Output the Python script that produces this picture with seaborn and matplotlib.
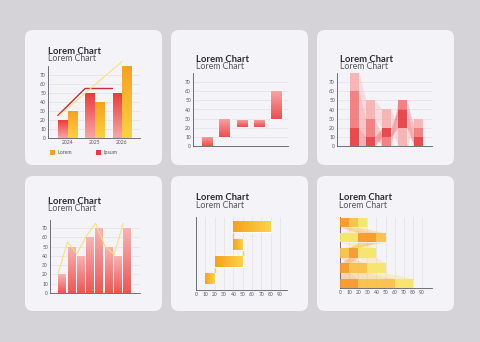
import numpy as np
import pandas as pd
import seaborn as sns
import matplotlib.pyplot as plt
import matplotlib.patches as mpatches
from matplotlib.colors import LinearSegmentedColormap
from matplotlib.transforms import IdentityTransform

sns.set_style('white')
plt.rcParams['font.family'] = ['Lato', 'DejaVu Sans']

# --- data ---
years = ['2024', '2025', '2026']
lorem_vals = [30, 40, 80]
ipsum_vals = [20, 50, 50]
red_line = [25, 55, 55]
yellow_line = [25, 55, 85]

wf_low = [0, 10, 21, 21, 30]
wf_high = [10, 30, 29, 29, 60]

dark_lo = [0, 0, 10, 20, 0]
dark_hi = [20, 10, 20, 40, 10]
mid_lo = [20, 10, 0, 40, 10]
mid_hi = [60, 30, 10, 50, 20]
light_lo = [60, 30, 20, 0, 20]
light_hi = [80, 50, 40, 20, 30]

bars4 = [20, 50, 40, 60, 70, 50, 40, 70]
line4 = [22, 55, 42, 61, 75, 51, 41, 75]

gantt_start = [10, 20, 40, 40]
gantt_end = [20, 50, 50, 80]

W, H = 480, 342
BG = '#d6d3d8'
CARD = '#f4f3f7'
AXC = '#5a5a66'
GRID = '#e2e1e8'

fig = plt.figure(figsize=(W / 100, H / 100), dpi=100, facecolor=BG)


def add_ax(l, t, r, b):
    ax = fig.add_axes([l / W, 1 - b / H, (r - l) / W, (b - t) / H])
    ax.set_facecolor('none')
    for s in ['top', 'right']:
        ax.spines[s].set_visible(False)
    for s in ['left', 'bottom']:
        ax.spines[s].set_color(AXC)
        ax.spines[s].set_linewidth(0.6)
    ax.tick_params(length=0, labelsize=3.6, colors='#555560', pad=1.5)
    return ax


def card(x, y, w, h):
    fig.add_artist(mpatches.FancyBboxPatch(
        (x, H - y - h), w, h, boxstyle='round,pad=0,rounding_size=8',
        transform=IdentityTransform(), facecolor=CARD, edgecolor='none', zorder=0))


def titles(x, y):
    fig.text(x / W, 1 - y / H, 'Lorem Chart', fontsize=6.8, fontweight='bold',
             color='#2b2b33', va='top')
    fig.text(x / W, 1 - (y + 7.5) / H, 'Lorem Chart', fontsize=6.3,
             color='#55555f', va='top')


def grad(ax, patch, colors, horizontal=False):
    x0, y0 = patch.get_x(), patch.get_y()
    w, h = patch.get_width(), patch.get_height()
    cmap = LinearSegmentedColormap.from_list('g', colors)
    g = np.linspace(0, 1, 64)
    img = g.reshape(1, -1) if horizontal else g.reshape(-1, 1)
    ext = (x0, x0 + w, y0, y0 + h) if horizontal else (x0, x0 + w, y0 + h, y0)
    im = ax.imshow(img, cmap=cmap, extent=ext, aspect='auto', origin='upper',
                   zorder=patch.get_zorder(), interpolation='bilinear')
    im.set_clip_path(patch)
    patch.set_facecolor('none')


for cx, cy in [(25, 30), (171, 30), (317, 30), (25, 176), (171, 176), (317, 176)]:
    card(cx, cy, 137, 135)

# ---------- chart 1: grouped bars + lines ----------
titles(48, 46.5)
ax = add_ax(48, 66, 140, 138)
df1 = pd.DataFrame({'year': years * 2,
                    'value': ipsum_vals + lorem_vals,
                    'series': ['Ipsum'] * 3 + ['Lorem'] * 3})
sns.barplot(data=df1, x='year', y='value', hue='series', palette=['#f05a5a', '#f9b52c'],
            width=0.7, gap=0.05, legend=False, ax=ax, zorder=2)
cmaps1 = [['#f8a6a6', '#ec3b3b'], ['#fbd23e', '#f8a021']]
for cont, cols in zip(ax.containers, cmaps1):
    for p in cont:
        grad(ax, p, cols)
ax.plot(np.arange(3) - 0.35, red_line, color='#c22f3a', lw=1.0, zorder=3, clip_on=False)
ax.plot(np.array([-0.3, 0.85, 2.0]), yellow_line, color='#f7e47a', lw=0.8, zorder=3, clip_on=False)
ax.set_ylim(0, 80)
ax.set_xlim(-0.71, 2.66)
ax.set_yticks(range(0, 80, 10))
ax.yaxis.grid(True, color=GRID, lw=0.5)
ax.set_axisbelow(True)
ax.set_xlabel('')
ax.set_ylabel('')
# legend
for lx, cols, lab in [(50, cmaps1[1], 'Lorem'), (96, cmaps1[0], 'Ipsum')]:
    sq = mpatches.Rectangle((lx, H - 155), 5, 5, transform=IdentityTransform(),
                            facecolor=cols[1], edgecolor='none')
    fig.add_artist(sq)
    fig.text((lx + 8) / W, 1 - 152.5 / H, lab, fontsize=3.8, color='#555560', va='center')

# ---------- chart 2: waterfall ----------
titles(196, 54.5)
ax = add_ax(193, 73, 288, 146)
xs = np.arange(len(wf_low))
bars = ax.bar(xs, np.array(wf_high) - np.array(wf_low), bottom=wf_low, width=0.63, zorder=2)
for p in bars:
    grad(ax, p, ['#ef4d4d', '#f8a3a3'])
ax.set_ylim(0, 80)
ax.set_xlim(-0.84, 4.65)
ax.set_yticks(range(0, 80, 10))
ax.set_xticks([])
ax.yaxis.grid(True, color=GRID, lw=0.5)
ax.set_axisbelow(True)

# ---------- chart 3: stacked bars with flows ----------
titles(340, 54.5)
ax = add_ax(337, 73, 432, 146)
xs = np.arange(5)
bw = 0.56
layers3 = [(dark_lo, dark_hi, '#e8383d'), (mid_lo, mid_hi, '#f27677'), (light_lo, light_hi, '#f8b0ae')]
for lo, hi, col in layers3:
    lo, hi = np.array(lo), np.array(hi)
    ax.bar(xs, hi - lo, bottom=lo, width=bw, color=col, alpha=0.9, zorder=3, lw=0)
    for i in range(4):
        ax.fill_between([xs[i] + bw / 2, xs[i + 1] - bw / 2], [lo[i], lo[i + 1]], [hi[i], hi[i + 1]],
                        color=col, alpha=0.35, lw=0, zorder=2)
ax.set_ylim(0, 80)
ax.set_xlim(-1.09, 4.84)
ax.set_yticks(range(0, 80, 10))
ax.set_xticks([])
ax.yaxis.grid(True, color=GRID, lw=0.5)
ax.set_axisbelow(True)

# ---------- chart 4: bars + line ----------
titles(48, 196.5)
ax = add_ax(50, 220, 140, 293)
df4 = pd.DataFrame({'i': range(len(bars4)), 'v': bars4})
sns.barplot(data=df4, x='i', y='v', color='#f05a5a', width=0.8, ax=ax, zorder=2)
for p in ax.patches:
    grad(ax, p, ['#ef5555', '#f9b4b4'])
ax.plot(np.arange(len(line4)) - 0.4, line4, color='#f7e07a', lw=0.8, zorder=3)
ax.set_ylim(0, 78.5)
ax.set_xlim(-1.3, 8.4)
ax.set_yticks(range(0, 80, 10))
ax.set_xticks([])
ax.set_xlabel('')
ax.set_ylabel('')
ax.yaxis.grid(True, color=GRID, lw=0.5)
ax.set_axisbelow(True)

# ---------- chart 5: gantt ----------
titles(196, 193.5)
ax = add_ax(196, 217, 287, 290)
ys = np.arange(len(gantt_start))
bh = 0.64
st, en = np.array(gantt_start), np.array(gantt_end)
hb = ax.barh(ys, en - st, left=st, height=bh, zorder=3)
for p in hb:
    grad(ax, p, ['#f7a01c', '#fbd448'], horizontal=True)
conn_x = [gantt_end[0], gantt_end[1], gantt_start[2]]
for i, cxv in enumerate(conn_x):
    ax.plot([cxv, cxv], [ys[i] + bh / 2, ys[i + 1] - bh / 2], color='#f9c94a', lw=1.0, zorder=2)
ax.set_xlim(0, 97.5)
ax.set_ylim(-0.67, 3.58)
ax.set_xticks(range(0, 100, 10))
ax.set_yticks([])
ax.xaxis.grid(True, color=GRID, lw=0.5)
ax.set_axisbelow(True)

# ---------- chart 6: horizontal stacked with flows ----------
titles(339, 193.5)
ax = add_ax(340, 217, 432, 288)
ys = np.arange(5)
bh = 0.62
layers6 = [(dark_lo, dark_hi, '#f7951f'), (mid_lo, mid_hi, '#fbbd3c'), (light_lo, light_hi, '#f7e462')]
for lo, hi, col in layers6:
    lo, hi = np.array(lo), np.array(hi)
    ax.barh(ys, hi - lo, left=lo, height=bh, color=col, alpha=0.9, zorder=3, lw=0)
    for i in range(4):
        ax.fill_betweenx([ys[i] + bh / 2, ys[i + 1] - bh / 2], [lo[i], lo[i + 1]], [hi[i], hi[i + 1]],
                         color=col, alpha=0.35, lw=0, zorder=2)
ax.set_xlim(0, 101)
ax.set_ylim(-0.31, 4.35)
ax.set_xticks(range(0, 100, 10))
ax.set_yticks([])
ax.xaxis.grid(True, color=GRID, lw=0.5)
ax.set_axisbelow(True)

fig.savefig('out.png', dpi=100, facecolor=BG)
